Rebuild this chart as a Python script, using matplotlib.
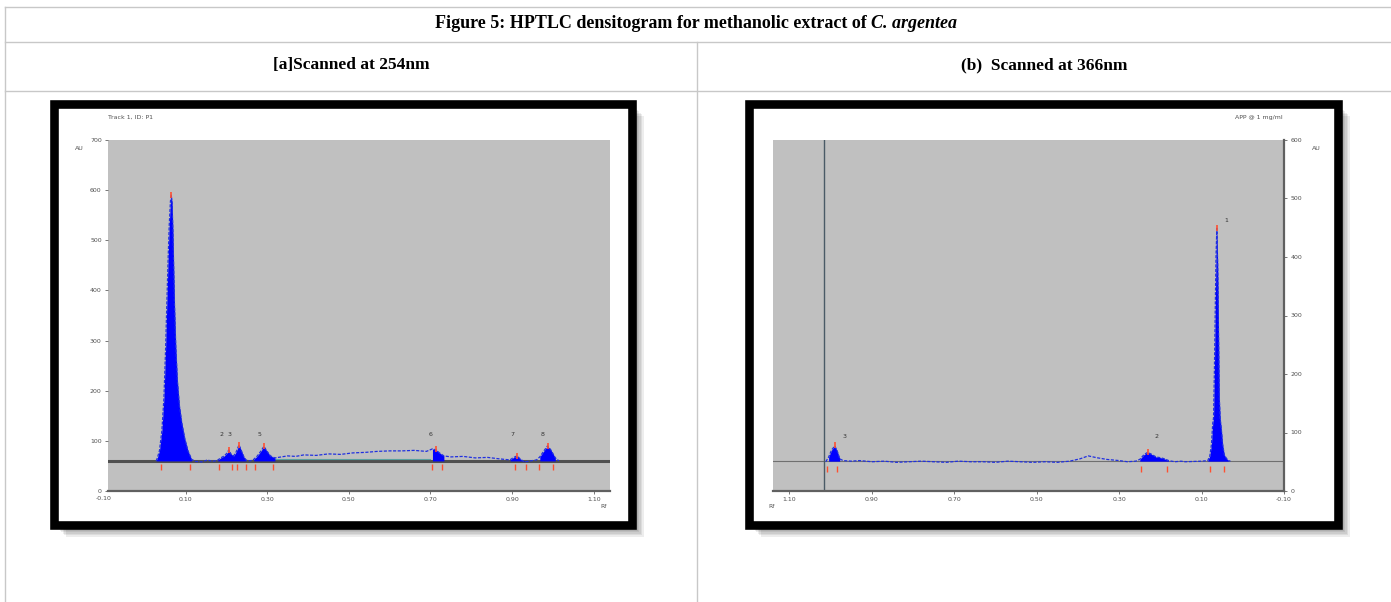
import numpy as np
from matplotlib import pyplot as plt
from matplotlib.patches import Rectangle

# Densitogram at 254 nm (Rf, AU).
SCAN_254_RF = [0.028, 0.030, 0.036, 0.042, 0.047, 0.051, 0.054, 0.057, 0.060, 0.063,
               0.065, 0.067, 0.069, 0.071, 0.073, 0.076, 0.080, 0.085, 0.091, 0.098,
               0.106, 0.115, 0.125, 0.140, 0.154, 0.165, 0.178, 0.186, 0.195, 0.202,
               0.206, 0.211, 0.218, 0.224, 0.231, 0.237, 0.243, 0.248, 0.258, 0.267,
               0.276, 0.285, 0.292, 0.299, 0.308, 0.319, 0.335, 0.350, 0.370, 0.390,
               0.420, 0.450, 0.480, 0.510, 0.540, 0.570, 0.600, 0.630, 0.660, 0.690,
               0.705, 0.714, 0.722, 0.733, 0.750, 0.780, 0.810, 0.840, 0.870, 0.895,
               0.902, 0.912, 0.920, 0.930, 0.945, 0.960, 0.968, 0.978, 0.987, 0.995,
               1.006, 1.015]
SCAN_254_AU = [60, 64, 80, 120, 185, 280, 370, 455, 530, 578,
               590, 575, 520, 445, 370, 290, 220, 170, 135, 105,
               80, 63, 59, 58, 62, 59, 61, 66, 70, 76,
               82, 74, 70, 78, 92, 80, 68, 62, 60, 63,
               70, 80, 89, 80, 70, 66, 68, 70, 69, 72,
               71, 74, 73, 76, 77, 79, 80, 80, 81, 79,
               84, 82, 76, 70, 68, 69, 66, 67, 64, 62,
               66, 70, 64, 58, 60, 62, 68, 80, 90, 82,
               66, 60]
BASE_254 = 60
PEAKS_254 = [(0.028, 0.120), (0.178, 0.250), (0.262, 0.320),
             (0.700, 0.735), (0.895, 0.930), (0.962, 1.010)]
APEX_254_RF = [0.065, 0.206, 0.231, 0.292, 0.714, 0.912, 0.987]
APEX_254_AU = [590, 82, 92, 89, 84, 70, 90]
LIMITS_254 = [0.041, 0.112, 0.182, 0.215, 0.225, 0.248, 0.269, 0.314,
              0.705, 0.728, 0.907, 0.935, 0.966, 1.001]
LABELS_254 = ['2', '3', '5', '6', '7', '8']
LABEL_254_RF = [0.187, 0.208, 0.280, 0.700, 0.900, 0.975]
YTICKS_254 = [0, 100, 200, 300, 400, 500, 600, 700]

# Densitogram at 366 nm (Rf, AU).
SCAN_366_RF = [1.012, 1.005, 0.998, 0.990, 0.984, 0.978, 0.970, 0.950, 0.930, 0.900,
               0.870, 0.840, 0.810, 0.780, 0.750, 0.720, 0.690, 0.660, 0.630, 0.600,
               0.570, 0.540, 0.510, 0.480, 0.450, 0.420, 0.395, 0.375, 0.355, 0.330,
               0.300, 0.280, 0.260, 0.250, 0.240, 0.231, 0.222, 0.210, 0.200, 0.190,
               0.180, 0.165, 0.150, 0.140, 0.100, 0.085, 0.080, 0.076, 0.073, 0.071,
               0.069, 0.067, 0.065, 0.063, 0.061, 0.059, 0.057, 0.055, 0.052, 0.049,
               0.045, 0.040, 0.035, 0.030]
SCAN_366_AU = [50, 58, 70, 77, 68, 55, 52, 51, 52, 50,
               51, 49, 50, 51, 50, 49, 51, 50, 50, 49,
               51, 50, 49, 50, 49, 51, 55, 60, 57, 54,
               52, 50, 51, 54, 62, 66, 63, 58, 57, 55,
               52, 50, 51, 50, 51, 52, 60, 80, 115, 125,
               200, 300, 400, 449, 390, 280, 160, 125, 105, 80,
               62, 56, 52, 51]
BASE_366 = 51
PEAKS_366 = [(0.976, 1.010), (0.175, 0.252), (0.032, 0.086)]
APEX_366_RF = [0.990, 0.231, 0.063]
APEX_366_AU = [79, 67, 449]
LIMITS_366 = [1.009, 0.985, 0.248, 0.183, 0.080, 0.046]
LABELS_366 = ['3', '2', '1']
LABEL_366_RF = [0.966, 0.210, 0.039]
LABEL_366_AU = [94, 94, 463]
YTICKS_366 = [0, 100, 200, 300, 400, 500, 600]

RF_TICKS = [-0.10, 0.10, 0.30, 0.50, 0.70, 0.90, 1.10]
RF_LABELS = ['-0.10', '0.10', '0.30', '0.50', '0.70', '0.90', '1.10']

GRID = '#c8c8c8'
PLOT_BG = '#c0c0c0'
SMALL = dict(fontsize=4.5, color='#505050')

fig = plt.figure(figsize=(13.91, 6.02), dpi=100)

# Page layer in pixel coordinates (table lines, frames, headings).
page = fig.add_axes([0, 0, 1, 1])
page.set_xlim(0, 1391)
page.set_ylim(602, 0)
page.axis('off')

for y in [7, 42, 91]:
    page.plot([5, 1391], [y, y], color=GRID, lw=1.0)
page.plot([5, 5], [7, 602], color=GRID, lw=1.0)
page.plot([697, 697], [42, 602], color=GRID, lw=1.0)

# Title with the species name in bold italic.
serif = 'Liberation Serif'
r = fig.canvas.get_renderer()
t1 = page.text(0, 24, 'Figure 5: HPTLC densitogram for methanolic extract of',
               fontsize=13, fontweight='bold', family=serif, va='center')
t2 = page.text(0, 24, 'C. argentea', fontsize=13, fontweight='bold',
               fontstyle='italic', family=serif, va='center')
w1 = t1.get_window_extent(r).width
w2 = t2.get_window_extent(r).width
x0 = 696 - (w1 + 4 + w2) / 2
t1.set_x(x0)
t2.set_x(x0 + w1 + 4)

page.text(351, 65, '[a]Scanned at 254nm', fontsize=12.5, fontweight='bold',
          family=serif, ha='center', va='center')
page.text(1044, 65, '(b)  Scanned at 366nm', fontsize=12.5, fontweight='bold',
          family=serif, ha='center', va='center')

# Picture frames with a soft drop shadow.
for fx, fw in [(54, 578), (749, 589)]:
    for i in range(6):
        page.add_patch(Rectangle((fx + 4 + i * 1.5, 108 + i * 1.5), fw, 421,
                                 facecolor='black', edgecolor='none', alpha=0.07))
    page.add_patch(Rectangle((fx, 104), fw, 421, facecolor='white',
                             edgecolor='black', lw=6.2))


def draw_scan(ax, rf, au, base, peaks, apex_rf, apex_au, limits):
    rf = np.array(rf)
    au = np.array(au)
    ax.set_facecolor(PLOT_BG)
    for lo, hi in peaks:
        m = (rf >= lo) & (rf <= hi)
        ax.fill_between(rf[m], base, au[m], color='#0000ff', lw=0, zorder=3)
    ax.plot(rf, au, color='#2030e0', lw=0.9, ls=(0, (2.5, 1.2)), zorder=3)
    ax.plot(apex_rf, apex_au, color='#ff5030', marker='|', ls='None',
            markersize=5, mew=1.2, zorder=4)
    ax.plot(limits, [base - 13] * len(limits), color='#ff5030', marker='|',
            ls='None', markersize=4, mew=1.0, zorder=4)
    ax.set_xticks(RF_TICKS)
    ax.set_xticklabels(RF_LABELS, **SMALL)
    ax.tick_params(length=2.5, width=0.6, color='#606060', pad=2)
    for s in ax.spines.values():
        s.set_visible(False)
    ax.spines['bottom'].set_visible(True)
    ax.spines['bottom'].set_color('#606060')
    ax.spines['bottom'].set_linewidth(1.6)


# [a] 254 nm
ax1 = fig.add_axes([108 / 1391, 1 - 491 / 602, 502 / 1391, 351 / 602])
ax1.axhline(BASE_254, color='#505050', lw=2.2, zorder=2)
ax1.plot([0.30, 0.70], [BASE_254 + 3, BASE_254 + 3], color='#5aa0a0', lw=0.8, zorder=2)
draw_scan(ax1, SCAN_254_RF, SCAN_254_AU, BASE_254, PEAKS_254,
          APEX_254_RF, APEX_254_AU, LIMITS_254)
for lab, x in zip(LABELS_254, LABEL_254_RF):
    ax1.text(x, 112, lab, ha='center', va='center', fontsize=4.5, color='#333333')
ax1.set_xlim(-0.09, 1.14)
ax1.set_ylim(0, 700)
# first Rf label sits just left of the plotting area
ax1.text(-0.10, -9, RF_LABELS[0], ha='center', va='top', clip_on=False, **SMALL)
ax1.set_yticks(YTICKS_254)
ax1.set_yticklabels([str(v) for v in YTICKS_254], **SMALL)
page.text(75, 150, 'AU', **SMALL)
page.text(600, 508, 'Rf', **SMALL)
page.text(108, 119, 'Track 1, ID: P1', **SMALL)

# (b) 366 nm, Rf axis runs right to left
ax2 = fig.add_axes([773 / 1391, 1 - 491 / 602, 511 / 1391, 351 / 602])
ax2.axhline(BASE_366, color='#707070', lw=0.8, zorder=2)
ax2.axvline(1.016, color='#4a5a66', lw=1.0, zorder=2)
draw_scan(ax2, SCAN_366_RF, SCAN_366_AU, BASE_366, PEAKS_366,
          APEX_366_RF, APEX_366_AU, LIMITS_366)
for lab, x, y in zip(LABELS_366, LABEL_366_RF, LABEL_366_AU):
    ax2.text(x, y, lab, ha='center', va='center', fontsize=4.5, color='#333333')
ax2.set_xlim(1.14, -0.10)
ax2.set_ylim(0, 600)
ax2.yaxis.tick_right()
ax2.set_yticks(YTICKS_366)
ax2.set_yticklabels([str(v) for v in YTICKS_366], **SMALL)
ax2.spines['right'].set_visible(True)
ax2.spines['right'].set_color('#606060')
ax2.spines['right'].set_linewidth(1.6)
page.text(1312, 150, 'AU', **SMALL)
page.text(768, 508, 'Rf', **SMALL)
page.text(1283, 119, 'APP @ 1 mg/ml', ha='right', **SMALL)

plt.savefig('out.png', dpi=100)
